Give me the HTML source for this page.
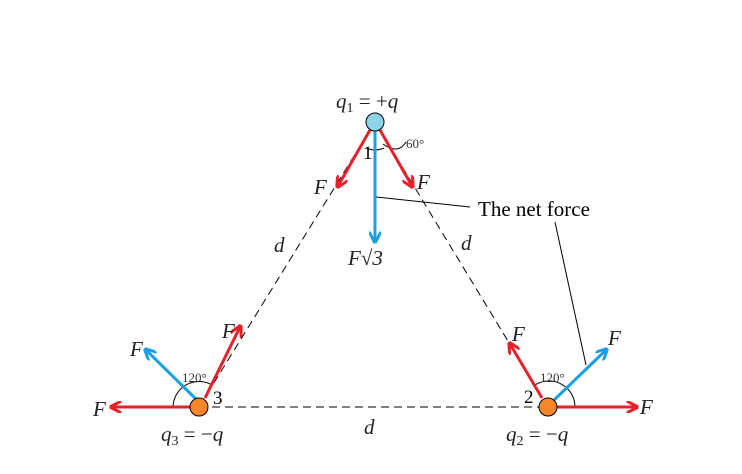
<!DOCTYPE html>
<html><head><meta charset="utf-8"><style>
body{margin:0;background:#fff}
svg{display:block}
text{font-family:"Liberation Serif",serif}
</style></head><body>
<svg width="742" height="474" viewBox="0 0 742 474" xmlns="http://www.w3.org/2000/svg">
<defs>
<marker id="ar" viewBox="0 0 10 10" refX="8" refY="5" markerWidth="4" markerHeight="4" orient="auto"><path d="M0,0 L10,5 L0,10" fill="none" stroke="#e8202a" stroke-width="2.5"/></marker>
<marker id="ab" viewBox="0 0 10 10" refX="8" refY="5" markerWidth="4" markerHeight="4" orient="auto"><path d="M0,0 L10,5 L0,10" fill="none" stroke="#1aa0e0" stroke-width="2.5"/></marker>
</defs>
<g stroke="#000" stroke-width="1" stroke-dasharray="8,5" fill="none">
<line x1="375" y1="122" x2="199" y2="407"/>
<line x1="375" y1="122" x2="548" y2="407"/>
<line x1="199" y1="407" x2="548" y2="407"/>
</g>
<g stroke="#000" stroke-width="1" fill="none">
<line x1="376" y1="197" x2="470" y2="207"/>
<line x1="555" y1="222" x2="586" y2="365"/>
<path d="M366,148 Q375,152 384,148"/>
<path d="M406,142 Q398,155 383,144"/>
<path d="M173,407 A26,26 0 0 1 212,385"/>
<path d="M535,385 A26,26 0 0 1 575,407"/>
</g>
<g stroke="#e8202a" stroke-width="3" fill="none">
<line x1="370" y1="130" x2="338" y2="186" marker-end="url(#ar)"/>
<line x1="380" y1="130" x2="412" y2="186" marker-end="url(#ar)"/>
<line x1="199" y1="407" x2="112" y2="407" marker-end="url(#ar)"/>
<line x1="205" y1="398" x2="240" y2="327" marker-end="url(#ar)"/>
<line x1="548" y1="407" x2="636" y2="407" marker-end="url(#ar)"/>
<line x1="542" y1="398" x2="510" y2="344" marker-end="url(#ar)"/>
</g>
<g stroke="#1aa0e0" stroke-width="3" fill="none">
<line x1="375" y1="130" x2="375" y2="241" marker-end="url(#ab)"/>
<line x1="197" y1="400" x2="146" y2="350" marker-end="url(#ab)"/>
<line x1="552" y1="402" x2="606" y2="350" marker-end="url(#ab)"/>
</g>
<circle cx="375" cy="122" r="9" fill="#8fd3e8" stroke="#000"/>
<circle cx="199" cy="407" r="9" fill="#f5862a" stroke="#000"/>
<circle cx="548" cy="407" r="9" fill="#f5862a" stroke="#000"/>
<g font-size="21" font-style="italic" fill="#222">
<text x="314" y="194">F</text>
<text x="417" y="189">F</text>
<text x="348" y="265">F√3</text>
<text x="274" y="252">d</text>
<text x="461" y="250">d</text>
<text x="364" y="434">d</text>
<text x="130" y="356">F</text>
<text x="222" y="338">F</text>
<text x="93" y="416">F</text>
<text x="512" y="341">F</text>
<text x="608" y="345">F</text>
<text x="640" y="414">F</text>
<text x="336" y="108">q<tspan font-size="14" dy="4" font-style="normal">1</tspan><tspan dy="-4" font-style="normal"> = +</tspan>q</text>
<text x="161" y="441">q<tspan font-size="14" dy="4" font-style="normal">3</tspan><tspan dy="-4" font-style="normal"> = −</tspan>q</text>
<text x="506" y="441">q<tspan font-size="14" dy="4" font-style="normal">2</tspan><tspan dy="-4" font-style="normal"> = −</tspan>q</text>
</g>
<g font-size="19" fill="#000">
<text x="363" y="159">1</text>
<text x="213" y="404">3</text>
<text x="524" y="403">2</text>
<text x="478" y="216" font-size="21">The net force</text>
</g>
<g font-size="13" fill="#333">
<text x="406" y="148">60°</text>
<text x="182" y="382">120°</text>
<text x="540" y="382">120°</text>
</g>
</svg>
</body></html>
